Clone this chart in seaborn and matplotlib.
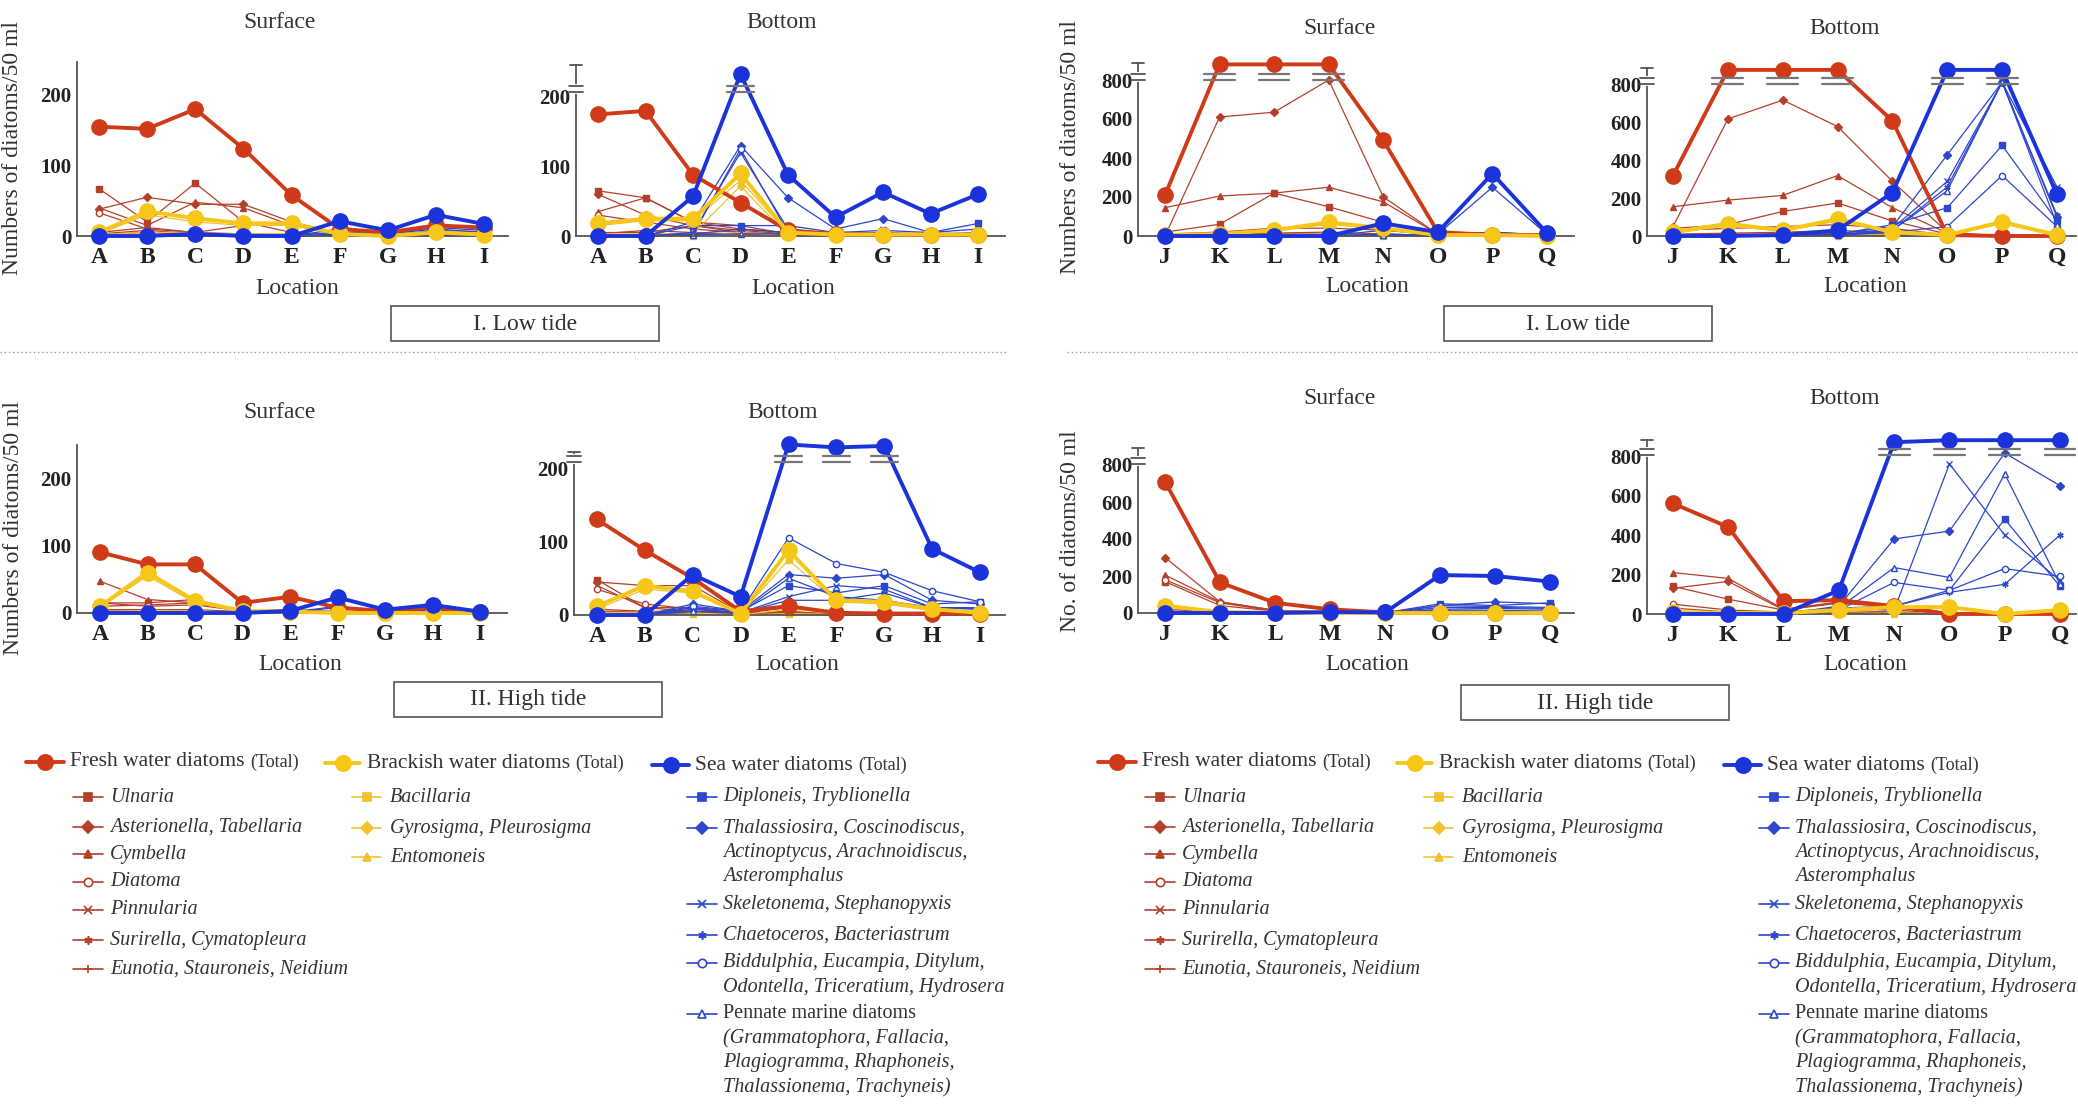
import numpy as np
import seaborn as sns
import matplotlib.pyplot as plt
from matplotlib.patches import Rectangle
from matplotlib.transforms import blended_transform_factory

W, H = 2078, 1106

LOC_AI = list("ABCDEFGHI")
LOC_JQ = list("JKLMNOPQ")

FRESH_TAXA = ["Ulnaria", "Asterionella, Tabellaria", "Cymbella", "Diatoma",
              "Pinnularia", "Surirella, Cymatopleura", "Eunotia, Stauroneis, Neidium"]
BRACK_TAXA = ["Bacillaria", "Gyrosigma, Pleurosigma", "Entomoneis"]
SEA_TAXA = [["Diploneis, Tryblionella"],
            ["Thalassiosira, Coscinodiscus,", "Actinoptycus, Arachnoidiscus,", "Asteromphalus"],
            ["Skeletonema, Stephanopyxis"],
            ["Chaetoceros, Bacteriastrum"],
            ["Biddulphia, Eucampia, Ditylum,", "Odontella, Triceratium, Hydrosera"],
            ["Pennate marine diatoms", "(Grammatophora, Fallacia,", "Plagiogramma, Rhaphoneis,",
             "Thalassionema, Trachyneis)"]]

# ---------------- data (numbers of diatoms / 50 ml) -------------
# values above an axis break are stored at the height where they are drawn

# I. Low tide, A-I, surface
low_ai_surf_fresh_total = [155, 152, 180, 124, 58, 10, 5, 15, 12]
low_ai_surf_brack_total = [5, 35, 25, 18, 18, 3, 0, 5, 2]
low_ai_surf_sea_total = [0, 0, 3, 0, 0, 21, 8, 30, 17]
low_ai_surf_fresh = [[67, 20, 75, 20, 5, 2, 1, 5, 3],
                     [38, 55, 45, 45, 20, 3, 1, 3, 2],
                     [40, 15, 48, 40, 15, 3, 1, 8, 6],
                     [33, 10, 5, 15, 20, 2, 1, 2, 1],
                     [5, 12, 5, 3, 2, 1, 0, 2, 1],
                     [3, 8, 3, 3, 2, 1, 0, 1, 1],
                     [2, 5, 2, 2, 1, 0, 0, 1, 0]]
low_ai_surf_brack = [[3, 30, 20, 15, 15, 2, 0, 3, 1],
                     [2, 5, 5, 3, 3, 1, 0, 2, 1],
                     [0, 1, 0, 0, 0, 0, 0, 0, 0]]
low_ai_surf_sea = [[0, 0, 2, 0, 0, 10, 3, 12, 8],
                   [0, 0, 1, 0, 0, 6, 3, 10, 5],
                   [0, 0, 0, 0, 0, 3, 1, 5, 2],
                   [0, 0, 0, 0, 0, 1, 0, 2, 1],
                   [0, 0, 0, 0, 0, 1, 1, 2, 1],
                   [0, 0, 0, 0, 0, 1, 0, 1, 0]]

# I. Low tide, A-I, bottom
low_ai_bot_fresh_total = [175, 180, 88, 48, 8, 3, 2, 2, 2]
low_ai_bot_brack_total = [18, 25, 25, 90, 5, 2, 2, 2, 2]
low_ai_bot_sea_total = [0, 0, 57, 233, 88, 27, 63, 32, 60]
low_ai_bot_fresh = [[65, 55, 20, 10, 5, 1, 1, 1, 1],
                    [60, 30, 15, 8, 3, 1, 0, 0, 0],
                    [35, 55, 20, 15, 3, 1, 0, 0, 0],
                    [30, 20, 10, 5, 2, 0, 0, 0, 0],
                    [5, 5, 15, 5, 2, 0, 0, 0, 0],
                    [3, 8, 5, 3, 1, 0, 0, 0, 0],
                    [2, 2, 3, 3, 2, 0, 0, 0, 0]]
low_ai_bot_brack = [[15, 22, 22, 80, 4, 1, 1, 1, 1],
                    [3, 3, 3, 72, 1, 0, 0, 0, 0],
                    [0, 0, 0, 5, 0, 0, 0, 0, 0]]
low_ai_bot_sea = [[0, 0, 15, 15, 15, 5, 8, 5, 18],
                  [0, 0, 20, 130, 55, 10, 25, 5, 10],
                  [0, 0, 5, 120, 10, 3, 5, 2, 5],
                  [0, 0, 3, 10, 5, 2, 3, 2, 3],
                  [0, 0, 2, 125, 5, 2, 3, 1, 2],
                  [0, 0, 2, 3, 3, 1, 2, 1, 2]]

# I. Low tide, J-Q, surface
low_jq_surf_fresh_total = [210, 880, 880, 880, 490, 20, 5, 5]
low_jq_surf_brack_total = [5, 10, 30, 70, 40, 5, 5, 0]
low_jq_surf_sea_total = [0, 0, 0, 0, 65, 20, 320, 15]
low_jq_surf_fresh = [[20, 60, 220, 150, 70, 5, 0, 0],
                     [0, 610, 635, 800, 200, 10, 0, 0],
                     [145, 205, 220, 250, 175, 10, 0, 0],
                     [10, 20, 40, 40, 30, 5, 0, 0],
                     [5, 10, 15, 20, 10, 2, 0, 0],
                     [3, 5, 10, 10, 5, 1, 0, 0],
                     [2, 3, 5, 5, 3, 1, 0, 0]]
low_jq_surf_brack = [[3, 8, 25, 60, 35, 3, 3, 0],
                     [1, 2, 5, 8, 5, 1, 1, 0],
                     [0, 0, 0, 2, 1, 0, 0, 0]]
low_jq_surf_sea = [[0, 0, 0, 0, 5, 5, 20, 5],
                   [0, 0, 0, 0, 30, 10, 250, 8],
                   [0, 0, 0, 0, 10, 3, 20, 2],
                   [0, 0, 0, 0, 5, 2, 10, 1],
                   [0, 0, 0, 0, 10, 2, 15, 1],
                   [0, 0, 0, 0, 3, 1, 5, 1]]

# I. Low tide, J-Q, bottom
low_jq_bot_fresh_total = [320, 880, 880, 880, 610, 5, 0, 0]
low_jq_bot_brack_total = [20, 65, 30, 90, 20, 5, 75, 5]
low_jq_bot_sea_total = [0, 0, 5, 30, 230, 880, 880, 220]
low_jq_bot_fresh = [[40, 60, 130, 175, 80, 10, 0, 0],
                    [50, 620, 720, 580, 290, 20, 0, 0],
                    [155, 190, 215, 320, 150, 15, 0, 0],
                    [30, 40, 50, 60, 40, 5, 0, 0],
                    [10, 15, 20, 30, 15, 2, 0, 0],
                    [5, 10, 10, 15, 10, 1, 0, 0],
                    [3, 5, 5, 5, 3, 0, 0, 0]]
low_jq_bot_brack = [[15, 55, 25, 80, 15, 3, 65, 3],
                    [3, 8, 4, 8, 4, 1, 8, 1],
                    [1, 2, 1, 2, 1, 0, 2, 0]]
low_jq_bot_sea = [[0, 0, 2, 10, 60, 150, 480, 80],
                  [0, 0, 2, 10, 50, 430, 815, 100],
                  [0, 0, 1, 5, 40, 290, 815, 260],
                  [0, 0, 1, 5, 30, 260, 815, 110],
                  [0, 0, 1, 3, 20, 50, 320, 50],
                  [0, 0, 1, 3, 30, 240, 815, 60]]

# II. High tide, A-I, surface
high_ai_surf_fresh_total = [90, 72, 72, 15, 24, 8, 3, 8, 2]
high_ai_surf_brack_total = [10, 60, 18, 3, 2, 0, 0, 0, 0]
high_ai_surf_sea_total = [0, 0, 0, 0, 3, 23, 5, 12, 2]
high_ai_surf_fresh = [[15, 15, 20, 3, 3, 1, 0, 1, 0],
                      [10, 12, 15, 2, 3, 1, 0, 1, 0],
                      [47, 20, 15, 3, 5, 2, 1, 2, 0],
                      [15, 10, 12, 3, 4, 1, 0, 1, 0],
                      [5, 5, 5, 2, 3, 1, 0, 1, 0],
                      [3, 3, 3, 1, 2, 0, 0, 1, 0],
                      [2, 2, 2, 1, 1, 0, 0, 0, 0]]
high_ai_surf_brack = [[8, 55, 15, 2, 1, 0, 0, 0, 0],
                      [2, 4, 3, 1, 1, 0, 0, 0, 0],
                      [0, 1, 0, 0, 0, 0, 0, 0, 0]]
high_ai_surf_sea = [[0, 0, 0, 0, 1, 10, 2, 5, 1],
                    [0, 0, 0, 0, 1, 8, 2, 4, 1],
                    [0, 0, 0, 0, 0, 3, 1, 2, 0],
                    [0, 0, 0, 0, 0, 1, 0, 1, 0],
                    [0, 0, 0, 0, 1, 2, 1, 1, 0],
                    [0, 0, 0, 0, 0, 1, 0, 1, 0]]

# II. High tide, A-I, bottom
high_ai_bot_fresh_total = [130, 88, 50, 5, 12, 3, 2, 2, 2]
high_ai_bot_brack_total = [12, 40, 32, 2, 88, 20, 18, 8, 3]
high_ai_bot_sea_total = [0, 0, 55, 25, 232, 228, 230, 90, 58]
high_ai_bot_fresh = [[48, 10, 5, 2, 5, 1, 1, 0, 0],
                     [45, 40, 40, 3, 3, 1, 0, 0, 0],
                     [40, 10, 10, 2, 10, 2, 1, 0, 0],
                     [35, 15, 8, 2, 4, 1, 0, 0, 0],
                     [8, 5, 5, 1, 3, 1, 0, 0, 0],
                     [5, 5, 3, 1, 2, 0, 0, 0, 0],
                     [3, 3, 2, 1, 1, 0, 0, 0, 0]]
high_ai_bot_brack = [[8, 35, 30, 2, 75, 18, 15, 6, 2],
                     [3, 4, 3, 0, 8, 3, 3, 1, 0],
                     [1, 1, 1, 0, 2, 1, 1, 0, 0]]
high_ai_bot_sea = [[0, 0, 10, 5, 40, 30, 40, 15, 18],
                   [0, 0, 15, 5, 55, 50, 55, 20, 15],
                   [0, 0, 8, 3, 25, 40, 35, 10, 10],
                   [0, 0, 5, 3, 20, 20, 30, 10, 8],
                   [0, 0, 12, 5, 105, 70, 58, 33, 18],
                   [0, 0, 5, 3, 50, 25, 20, 10, 8]]

# II. High tide, J-Q, surface
high_jq_surf_fresh_total = [710, 165, 55, 20, 3, 0, 0, 0]
high_jq_surf_brack_total = [40, 5, 2, 2, 0, 0, 0, 0]
high_jq_surf_sea_total = [0, 0, 0, 5, 3, 205, 200, 170]
high_jq_surf_fresh = [[170, 40, 10, 5, 1, 0, 0, 0],
                      [300, 60, 15, 5, 1, 0, 0, 0],
                      [205, 60, 15, 5, 1, 0, 0, 0],
                      [180, 55, 10, 3, 1, 0, 0, 0],
                      [20, 5, 2, 1, 0, 0, 0, 0],
                      [10, 3, 1, 0, 0, 0, 0, 0],
                      [5, 2, 1, 0, 0, 0, 0, 0]]
high_jq_surf_brack = [[35, 4, 1, 1, 0, 0, 0, 0],
                      [5, 1, 0, 0, 0, 0, 0, 0],
                      [0, 0, 0, 0, 0, 0, 0, 0]]
high_jq_surf_sea = [[0, 0, 0, 2, 1, 50, 40, 55],
                    [0, 0, 0, 1, 1, 40, 60, 50],
                    [0, 0, 0, 1, 0, 30, 30, 25],
                    [0, 0, 0, 0, 0, 20, 25, 20],
                    [0, 0, 0, 1, 0, 40, 35, 30],
                    [0, 0, 0, 0, 0, 15, 15, 10]]

# II. High tide, J-Q, bottom
high_jq_bot_fresh_total = [560, 440, 65, 70, 40, 0, 0, 0]
high_jq_bot_brack_total = [10, 5, 5, 20, 35, 35, 0, 20]
high_jq_bot_sea_total = [0, 0, 0, 120, 870, 880, 880, 880]
high_jq_bot_fresh = [[140, 75, 20, 60, 40, 5, 0, 0],
                     [130, 165, 20, 55, 35, 5, 0, 0],
                     [210, 180, 25, 60, 40, 5, 0, 0],
                     [50, 20, 10, 30, 20, 2, 0, 0],
                     [30, 10, 5, 20, 10, 1, 0, 0],
                     [15, 5, 3, 10, 5, 1, 0, 0],
                     [5, 3, 1, 5, 3, 0, 0, 0]]
high_jq_bot_brack = [[8, 4, 4, 15, 30, 30, 0, 15],
                     [2, 1, 1, 3, 5, 5, 0, 3],
                     [0, 0, 0, 1, 1, 1, 0, 1]]
high_jq_bot_sea = [[0, 0, 0, 30, 40, 120, 480, 140],
                   [0, 0, 0, 40, 380, 420, 815, 650],
                   [0, 0, 0, 30, 20, 760, 400, 170],
                   [0, 0, 0, 20, 40, 110, 150, 400],
                   [0, 0, 0, 20, 160, 120, 230, 190],
                   [0, 0, 0, 30, 235, 185, 710, 150]]

# ---------------- style ----------------
FRESH, FRESH_SUB = "#CF3B18", "#B5402A"
BRACK, BRACK_SUB = "#F6C619", "#F0C232"
SEA, SEA_SUB = "#1A33DA", "#2C46CC"
GREY = "#555555"
TXT = "#333333"
ASTER = (6, 2, 0)

FRESH_MK = ["s", "D", "^", "o", "x", ASTER, "+"]
FRESH_OPEN = [False, False, False, True, False, False, False]
BRACK_MK = ["s", "D", "^"]
SEA_MK = ["s", "D", "x", ASTER, "o", "^"]
SEA_OPEN = [False, False, False, False, True, True]

sns.set_style("white")
plt.rcParams["font.family"] = ["Liberation Serif", "DejaVu Serif"]

fig = plt.figure(figsize=(W / 100, H / 100), dpi=100)

ov = fig.add_axes([0, 0, 1, 1])
ov.set_xlim(0, W)
ov.set_ylim(H, 0)
ov.axis("off")


def series(ax, vals, color, marker, hollow=False, total=False, z=2):
    x = np.arange(len(vals))
    sns.lineplot(x=x, y=vals, ax=ax, color=color, marker=marker,
                 markersize=11 if total else 4.5,
                 markeredgecolor=color,
                 markerfacecolor="white" if hollow else color,
                 markeredgewidth=1.0,
                 linewidth=2.8 if total else 0.9,
                 errorbar=None, legend=False, clip_on=False, zorder=z)


def panel(locs, fresh_t, brack_t, sea_t, fresh, brack, sea, lay):
    left, right, x0, x1, y0, yref_px, yref, ytop, spine_top, brk = lay
    n = len(locs)
    top = y0 - (y0 - yref_px) * ytop / yref
    ax = fig.add_axes([left / W, 1 - y0 / H, (right - left) / W, (y0 - top) / H])
    ax.set_facecolor("none")
    unit = (x1 - x0) / (n - 1)
    ax.set_xlim(-(x0 - left) / unit, (n - 1) + (right - x1) / unit)
    ax.set_ylim(0, ytop)

    for vals, mk, op in zip(fresh, FRESH_MK, FRESH_OPEN):
        series(ax, vals, FRESH_SUB, mk, op)
    for vals, mk in zip(brack, BRACK_MK):
        series(ax, vals, BRACK_SUB, mk)
    for vals, mk, op in zip(sea, SEA_MK, SEA_OPEN):
        series(ax, vals, SEA_SUB, mk, op)
    series(ax, fresh_t, FRESH, "o", total=True, z=4)
    series(ax, brack_t, BRACK, "o", total=True, z=5)
    series(ax, sea_t, SEA, "o", total=True, z=6)

    px_per_val = (y0 - top) / ytop
    d = 3.0 / px_per_val
    if brk is not None:
        # break marks on the lines that run past the break
        for tot in (fresh_t, sea_t):
            for i, v in enumerate(tot):
                if v > brk:
                    for yy in (brk - d, brk + d):
                        ax.plot([i - 0.28, i + 0.28], [yy, yy], color="#777777",
                                lw=1.6, zorder=7, clip_on=False)
        tr = blended_transform_factory(ax.transAxes, ax.transData)
        dx = 7.0 / (right - left)
        ax.plot([0, 0], [brk - d, brk + d], color="white", lw=3, transform=tr,
                zorder=8, clip_on=False)
        for yy in (brk - d, brk + d):
            ax.plot([-dx, dx], [yy, yy], color=GREY, lw=1.3, transform=tr,
                    zorder=9, clip_on=False)
        ax.plot([-dx * 0.8, dx * 0.8], [spine_top, spine_top], color=GREY, lw=1.3,
                transform=tr, zorder=9, clip_on=False)

    for s in ("top", "right"):
        ax.spines[s].set_visible(False)
    for s in ("left", "bottom"):
        ax.spines[s].set_color(GREY)
        ax.spines[s].set_linewidth(1.3)
    ax.spines["left"].set_bounds(0, spine_top)

    ax.set_xticks(range(n))
    ax.set_xticklabels(locs, fontsize=17, fontweight="bold", color="#222222")
    if ytop < 300:
        ax.set_yticks([0, 100, 200])
        ax.set_yticks([50, 150], minor=True)
    else:
        ax.set_yticks([0, 200, 400, 600, 800])
        ax.set_yticks([100, 300, 500, 700], minor=True)
    for lab in ax.get_yticklabels():
        lab.set_fontsize(15)
        lab.set_fontweight("bold")
        lab.set_color("#222222")
    ax.tick_params(axis="x", length=0, pad=8)
    ax.tick_params(axis="y", which="major", direction="in", length=5, width=1.1,
                   color=GREY, pad=4)
    ax.tick_params(axis="y", which="minor", direction="in", length=3, width=1.0,
                   color=GREY)
    ax.set_xlabel("")
    ax.set_ylabel("")
    return ax


# layout: left, right, x of first loc, x of last loc, y of 0, y of ref, ref, ytop, spine top, break
panels = [
    (LOC_AI, low_ai_surf_fresh_total, low_ai_surf_brack_total, low_ai_surf_sea_total,
     low_ai_surf_fresh, low_ai_surf_brack, low_ai_surf_sea,
     (77, 508, 99, 484, 236, 95, 200, 250, 247, None)),
    (LOC_AI, low_ai_bot_fresh_total, low_ai_bot_brack_total, low_ai_bot_sea_total,
     low_ai_bot_fresh, low_ai_bot_brack, low_ai_bot_sea,
     (576, 1005, 598, 978, 236, 97, 200, 250, 246, 212)),
    (LOC_JQ, low_jq_surf_fresh_total, low_jq_surf_brack_total, low_jq_surf_sea_total,
     low_jq_surf_fresh, low_jq_surf_brack, low_jq_surf_sea,
     (1138, 1574, 1165, 1547, 236, 80, 800, 900, 887, 815)),
    (LOC_JQ, low_jq_bot_fresh_total, low_jq_bot_brack_total, low_jq_bot_sea_total,
     low_jq_bot_fresh, low_jq_bot_brack, low_jq_bot_sea,
     (1647, 2076, 1673, 2057, 236, 85, 800, 900, 890, 822)),
    (LOC_AI, high_ai_surf_fresh_total, high_ai_surf_brack_total, high_ai_surf_sea_total,
     high_ai_surf_fresh, high_ai_surf_brack, high_ai_surf_sea,
     (77, 507, 100, 480, 613, 478, 200, 250, 249, None)),
    (LOC_AI, high_ai_bot_fresh_total, high_ai_bot_brack_total, high_ai_bot_sea_total,
     high_ai_bot_fresh, high_ai_bot_brack, high_ai_bot_sea,
     (574, 1005, 597, 980, 615, 468, 200, 250, 222, 212)),
    (LOC_JQ, high_jq_surf_fresh_total, high_jq_surf_brack_total, high_jq_surf_sea_total,
     high_jq_surf_fresh, high_jq_surf_brack, high_jq_surf_sea,
     (1138, 1574, 1165, 1550, 613, 465, 800, 900, 892, 820)),
    (LOC_JQ, high_jq_bot_fresh_total, high_jq_bot_brack_total, high_jq_bot_sea_total,
     high_jq_bot_fresh, high_jq_bot_brack, high_jq_bot_sea,
     (1647, 2076, 1673, 2060, 614, 456, 800, 900, 880, 820)),
]
for p in panels:
    panel(*p)

# ---------------- texts around the panels ----------------
titles = [("Surface", 280, 22), ("Bottom", 782, 22), ("Surface", 1340, 28), ("Bottom", 1845, 28),
          ("Surface", 280, 413), ("Bottom", 783, 413), ("Surface", 1340, 398), ("Bottom", 1845, 398)]
for s, x, y in titles:
    ov.text(x, y, s, fontsize=17, ha="center", va="center", color=TXT)

for x, y in [(297, 288), (793, 288), (1367, 286), (1865, 286),
             (300, 665), (797, 665), (1367, 665), (1865, 665)]:
    ov.text(x, y, "Location", fontsize=17, ha="center", va="center", color=TXT)

for s, x, y in [("Numbers of diatoms/50 ml", 13, 148), ("Numbers of diatoms/50 ml", 1071, 147),
                ("Numbers of diatoms/50 ml", 14, 528), ("No. of diatoms/50 ml", 1071, 531)]:
    ov.text(x, y, s, fontsize=17, rotation=90, ha="center", va="center", color=TXT)

for s, x, y in [("I. Low tide", 391, 306), ("I. Low tide", 1444, 306),
                ("II. High tide", 394, 682), ("II. High tide", 1461, 685)]:
    ov.add_patch(Rectangle((x, y), 268, 35, fill=False, ec=GREY, lw=1.2))
    ov.text(x + 134, y + 18, s, fontsize=17, ha="center", va="center", color=TXT)

ov.plot([0, 1007], [352, 352], ls=(0, (1, 2)), color="#9a9a9a", lw=1.0)
ov.plot([1067, 2078], [352, 352], ls=(0, (1, 2)), color="#9a9a9a", lw=1.0)


# ---------------- legends ----------------
def key(x1, x2, y, color, marker, hollow=False, total=False):
    xm = (x1 + x2) / 2
    ov.plot([x1, xm, x2], [y, y, y], color=color, lw=2.8 if total else 1.2,
            marker=marker, markevery=[1], markersize=11 if total else 6,
            markeredgecolor=color, markerfacecolor="white" if hollow else color,
            markeredgewidth=1.2)


def legend(ox):
    heads = [(26, 64, 70, FRESH, "Fresh water diatoms", 762),
             (325, 360, 367, BRACK, "Brackish water diatoms", 763),
             (652, 689, 695, SEA, "Sea water diatoms", 765)]
    for x1, x2, xt, c, s, y in heads:
        key(ox + x1, ox + x2, y, c, "o", total=True)
        t = ov.text(ox + xt, y, s, fontsize=15.5, va="center", color=TXT)
        ov.annotate("(Total)", xy=(1, 0.5), xycoords=t, xytext=(4, 0),
                    textcoords="offset points", va="center", fontsize=13, color=TXT)
    fy = [797, 827, 854, 882, 910, 940, 969]
    for name, mk, op, y in zip(FRESH_TAXA, FRESH_MK, FRESH_OPEN, fy):
        key(ox + 73, ox + 103, y, FRESH_SUB, mk, op)
        ov.text(ox + 110, y, name, fontsize=14.5, style="italic", va="center", color=TXT)
    for name, mk, y in zip(BRACK_TAXA, BRACK_MK, [797, 828, 857]):
        key(ox + 352, ox + 381, y, BRACK_SUB, mk)
        ov.text(ox + 390, y, name, fontsize=14.5, style="italic", va="center", color=TXT)
    sy = [797, 828, 904, 935, 963, 1014]
    for lines, mk, op, y in zip(SEA_TAXA, SEA_MK, SEA_OPEN, sy):
        key(ox + 687, ox + 717, y, SEA_SUB, mk, op)
        for k, line in enumerate(lines):
            upright = line.startswith("Pennate")
            ov.text(ox + 723, y + 24.5 * k, line, fontsize=14.5,
                    style="normal" if upright else "italic", va="center", color=TXT)


legend(0)
legend(1072)

fig.savefig("out.png", dpi=100)
